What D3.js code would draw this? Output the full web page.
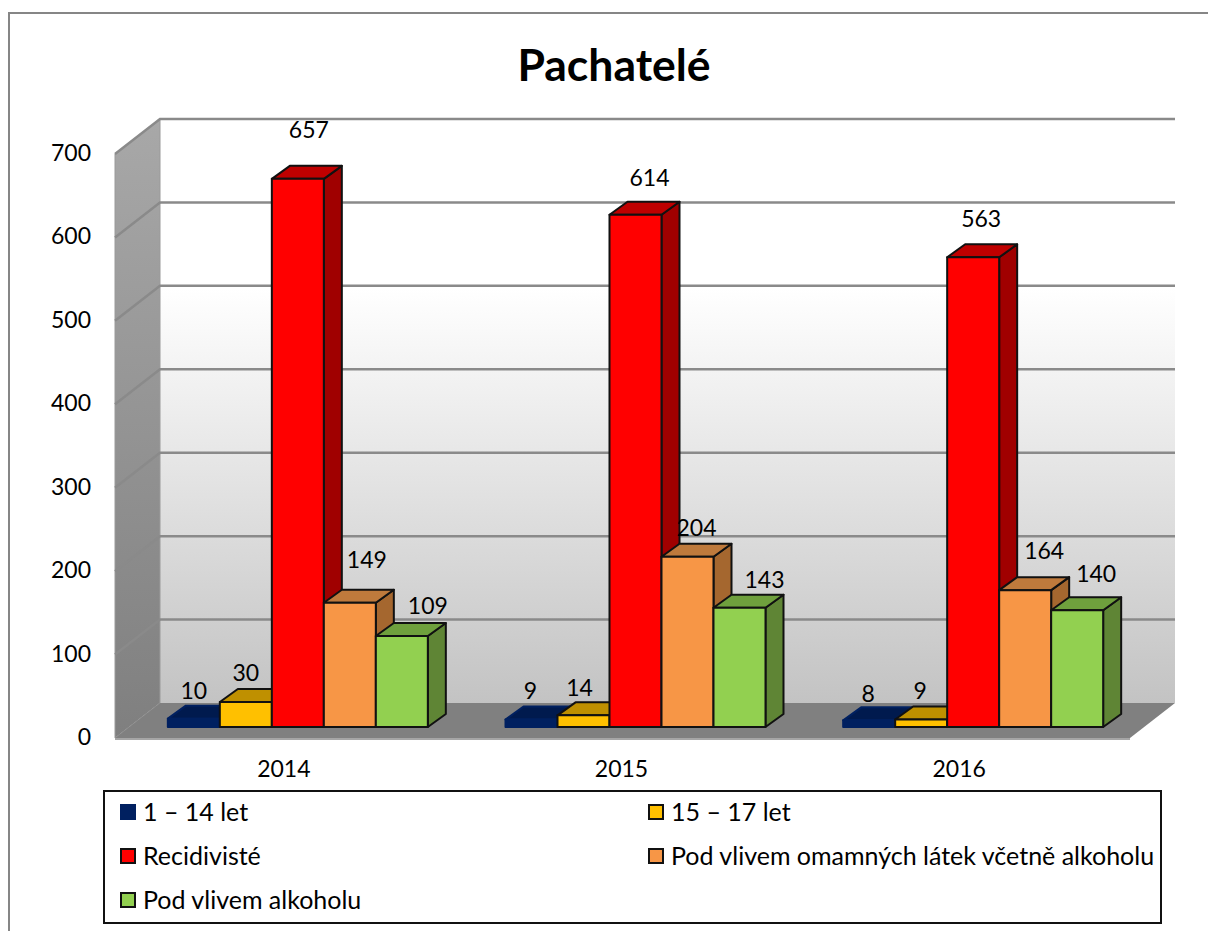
<!DOCTYPE html>
<html>
<head>
<meta charset="utf-8">
<script src="https://cdn.jsdelivr.net/npm/d3@7"></script>
<style>
  body { margin: 0; background: #fff; }
  svg { display: block; }
  text { font-family: Lato, "Open Sans", sans-serif; fill: #000; }
</style>
</head>
<body>
<div id="vis"></div>
<script>
// Data
const years = ["2014", "2015", "2016"];
const seriesNames = ["1 – 14 let", "15 – 17 let", "Recidivisté", "Pod vlivem omamných látek včetně alkoholu", "Pod vlivem alkoholu"];
const values1to14 = [10, 9, 8];
const values15to17 = [30, 14, 9];
const valuesRecidivists = [657, 614, 563];
const valuesDrugs = [149, 204, 164];
const valuesAlcohol = [109, 143, 140];
const yTicks = [0, 100, 200, 300, 400, 500, 600, 700];

const seriesValues = [values1to14, values15to17, valuesRecidivists, valuesDrugs, valuesAlcohol];

// Colours per series: front, top, side
const colors = [
  { front: "#002060", top: "#001a4e", side: "#001a4e", stroke: "#002060" },
  { front: "#ffc000", top: "#bf9000", side: "#a67d00", stroke: "#111" },
  { front: "#ff0000", top: "#bf0000", side: "#a00000", stroke: "#111" },
  { front: "#f79646", top: "#bf7a3c", side: "#a5672f", stroke: "#111" },
  { front: "#92d050", top: "#6fa03d", side: "#5f8535", stroke: "#111" }
];

// Hand placed data labels in the original, [dx, dy] from the bar top centre, by series then year
const labelOffsets = [
  [[0, -20], [-1, -20], [-1, -18]],
  [[0, -21], [-4, -19], [-1, -20]],
  [[11, -41], [14, -29], [8, -30]],
  [[17, -35], [9, -21], [19, -31]],
  [[26, -22], [25, -20], [19, -28]]
];

// Layout
const width = 1208;
const height = 931;
const frontLeft = 115, frontRight = 1130;
const wallDx = 45, wallDy = -35;      // depth of the floor
const barDx = 18, barDy = -13;        // depth of a bar
const floorInDx = 14, floorInDy = -11; // bars sit inside the floor
const barWidth = 52;

const svg = d3.select("#vis").append("svg")
  .attr("width", width)
  .attr("height", height);

const defs = svg.append("defs");

const wallGrad = defs.append("linearGradient").attr("id", "wallGrad")
  .attr("x1", 0).attr("x2", 0).attr("y1", 0).attr("y2", 1);
wallGrad.append("stop").attr("offset", "0%").attr("stop-color", "#ffffff");
wallGrad.append("stop").attr("offset", "29%").attr("stop-color", "#ffffff");
wallGrad.append("stop").attr("offset", "100%").attr("stop-color", "#c3c3c3");

const sideGrad = defs.append("linearGradient").attr("id", "sideGrad")
  .attr("x1", 0).attr("x2", 0).attr("y1", 0).attr("y2", 1);
sideGrad.append("stop").attr("offset", "0%").attr("stop-color", "#a8a8a8");
sideGrad.append("stop").attr("offset", "100%").attr("stop-color", "#7f7f7f");

// Scales
const y = d3.scaleLinear().domain([0, 700]).range([738, 154]);
const x = d3.scaleBand().domain(years).range([frontLeft, 1128]);
const xInner = d3.scaleBand().domain(d3.range(seriesNames.length)).range([0, barWidth * seriesNames.length]);

// Outer frame, runs off the right and bottom of the picture
svg.append("rect")
  .attr("x", 9).attr("y", 13)
  .attr("width", 1300).attr("height", 1000)
  .attr("fill", "#fff")
  .attr("stroke", "#868686")
  .attr("stroke-width", 2);

// Title
svg.append("text")
  .attr("x", 614).attr("y", 81)
  .attr("text-anchor", "middle")
  .attr("font-size", "44.5px")
  .attr("font-weight", "bold")
  .text("Pachatelé");

// Back wall
svg.append("rect")
  .attr("x", frontLeft + wallDx).attr("y", y(700) + wallDy)
  .attr("width", frontRight - frontLeft)
  .attr("height", y(0) - y(700))
  .attr("fill", "url(#wallGrad)");

// Left wall
svg.append("path")
  .attr("d", d3.line()([
    [frontLeft, y(700)],
    [frontLeft + wallDx, y(700) + wallDy],
    [frontLeft + wallDx, y(0) + wallDy],
    [frontLeft, y(0)]
  ]) + "Z")
  .attr("fill", "url(#sideGrad)")
  .attr("stroke", "#9a9a9a");

// Floor
svg.append("path")
  .attr("d", d3.line()([
    [frontLeft, y(0)],
    [frontLeft + wallDx, y(0) + wallDy],
    [frontRight + wallDx, y(0) + wallDy],
    [frontRight, y(0)]
  ]) + "Z")
  .attr("fill", "#808080");

svg.append("line")
  .attr("x1", frontLeft).attr("x2", frontRight)
  .attr("y1", y(0) + 1).attr("y2", y(0) + 1)
  .attr("stroke", "#a6a6a6")
  .attr("stroke-width", 2);

// Grid lines on both walls
const gridTicks = yTicks.filter(d => d > 0);
svg.append("g").selectAll("path")
  .data(gridTicks)
  .join("path")
  .attr("d", d => d3.line()([
    [frontLeft, y(d)],
    [frontLeft + wallDx, y(d) + wallDy],
    [frontRight + wallDx, y(d) + wallDy]
  ]))
  .attr("fill", "none")
  .attr("stroke", "#8a8a8a")
  .attr("stroke-width", 2.5);

// Axes (labels only)
const yAxis = svg.append("g")
  .attr("transform", "translate(91,0)")
  .call(d3.axisLeft(y).tickValues(yTicks).tickSize(0).tickPadding(0));
yAxis.select(".domain").remove();
yAxis.selectAll("text").attr("font-size", "23px").attr("dy", "0.28em");

const xAxis = svg.append("g")
  .attr("transform", "translate(0,760)")
  .call(d3.axisBottom(x).tickSize(0).tickPadding(0));
xAxis.select(".domain").remove();
xAxis.selectAll("text").attr("font-size", "23px").attr("dy", "0").attr("y", 17);

// Bars, drawn left to right so the later ones cover the earlier side faces
years.forEach((year, yi) => {
  const groupLeft = x(year) + (x.bandwidth() - xInner.bandwidth() * seriesNames.length) / 2 + floorInDx;
  seriesValues.forEach((vals, si) => {
    const c = colors[si];
    const x0 = groupLeft + xInner(si);
    const x1 = x0 + xInner.bandwidth();
    const top = y(vals[yi]) + floorInDy;
    const bottom = y(0) + floorInDy;
    const g = svg.append("g")
      .attr("stroke", c.stroke)
      .attr("stroke-width", 2)
      .attr("stroke-linejoin", "round");

    g.append("path") // side
      .attr("d", d3.line()([[x1, top], [x1 + barDx, top + barDy], [x1 + barDx, bottom + barDy], [x1, bottom]]) + "Z")
      .attr("fill", c.side);
    g.append("path") // top
      .attr("d", d3.line()([[x0, top], [x0 + barDx, top + barDy], [x1 + barDx, top + barDy], [x1, top]]) + "Z")
      .attr("fill", c.top);
    g.append("rect") // front
      .attr("x", x0).attr("y", top)
      .attr("width", x1 - x0).attr("height", bottom - top)
      .attr("fill", c.front);
  });
});

// Data labels on top of everything
years.forEach((year, yi) => {
  const groupLeft = x(year) + (x.bandwidth() - xInner.bandwidth() * seriesNames.length) / 2 + floorInDx;
  seriesValues.forEach((vals, si) => {
    const off = labelOffsets[si][yi];
    svg.append("text")
      .attr("x", groupLeft + xInner(si) + xInner.bandwidth() / 2 + off[0])
      .attr("y", y(vals[yi]) + floorInDy + off[1])
      .attr("text-anchor", "middle")
      .attr("font-size", "23px")
      .text(vals[yi]);
  });
});

// Legend
svg.append("rect")
  .attr("x", 104).attr("y", 791)
  .attr("width", 1057).attr("height", 132)
  .attr("fill", "#fff")
  .attr("stroke", "#111")
  .attr("stroke-width", 2);

const legendCols = [121, 649];
const legendRows = [812, 856, 900];
seriesNames.forEach((name, i) => {
  const lx = legendCols[i % 2];
  const ly = legendRows[Math.floor(i / 2)];
  svg.append("rect")
    .attr("x", lx).attr("y", ly - 7)
    .attr("width", 14).attr("height", 14)
    .attr("fill", colors[i].front)
    .attr("stroke", colors[i].stroke)
    .attr("stroke-width", 2);
  svg.append("text")
    .attr("x", lx + 22).attr("y", ly + 9)
    .attr("font-size", "25px")
    .text(name);
});
</script>
</body>
</html>
